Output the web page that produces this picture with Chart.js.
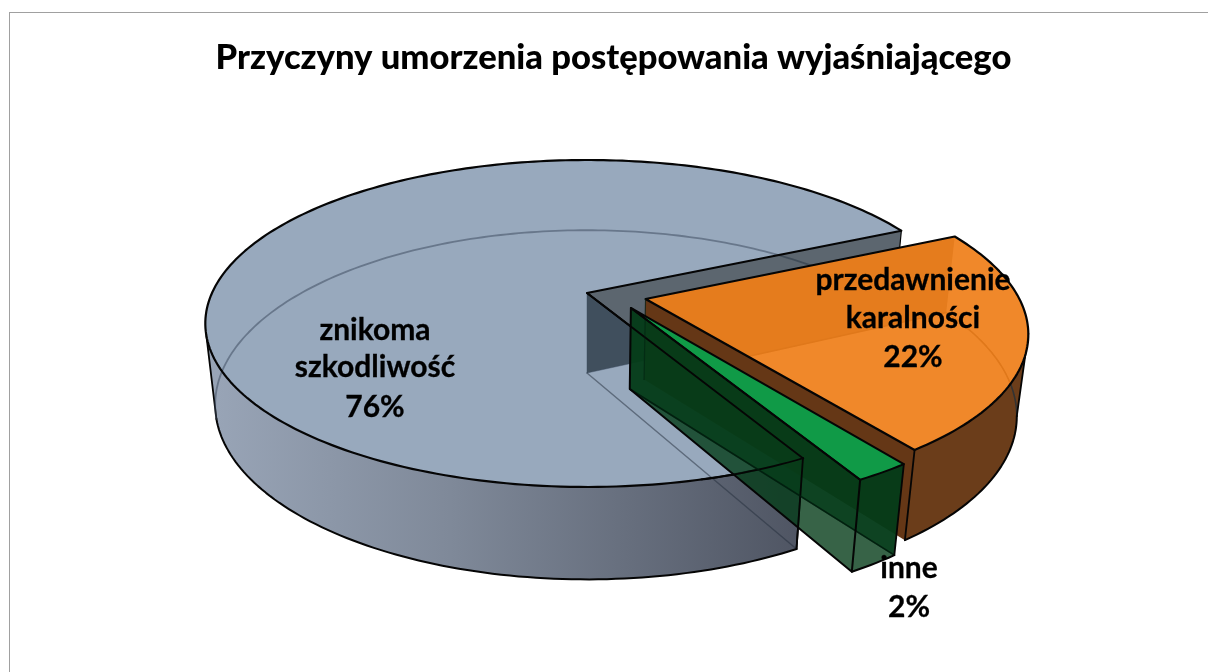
<!DOCTYPE html>
<html><head><meta charset="utf-8">
<script src="https://cdn.jsdelivr.net/npm/chart.js@4"></script>
<style>
html,body{margin:0;padding:0;background:#fff;overflow:hidden}
#frame{position:absolute;left:9px;top:12px;width:1199px;height:660px;border-left:1px solid #a0a0a0;border-top:1px solid #a0a0a0;box-sizing:border-box}
#wrap{position:absolute;left:0;top:0;width:1208px;height:672px}
</style></head><body>
<div id="frame"></div>
<div id="wrap"><canvas id="c" width="1208" height="672"></canvas></div>
<script>
const chartTitle = 'Przyczyny umorzenia postępowania wyjaśniającego';
const categories = ['znikoma szkodliwość', 'przedawnienie karalności', 'inne'];
const values = [76, 22, 2];
const percentLabels = ['76%', '22%', '2%'];
const sliceColors = ['#98A9BD', '#F0842A', '#109A47'];

// perspective of the pie plane
const CX = 587, CY = 293, RX = 375, RY = 157.8, PERSP = 0.1865, VX = 587, VY = 3500, DEPTH = 0.02495;
const SHIFT = [[0, 0], [0.155, 0.038], [0.115, 0.093]];
const RADIUS = [1, 0.99, 1];
const LABEL_LINES = [
  {x: 375, ys: [330, 367, 407], lines: ['znikoma', 'szkodliwość', percentLabels[0]]},
  {x: 913, ys: [280, 318, 357], lines: ['przedawnienie', 'karalności', percentLabels[1]]},
  {x: 909, ys: [568, 607], lines: ['inne', percentLabels[2]]}
];

function top3(i, a, r) {
  const rad = (r === undefined ? 1 : r) * RADIUS[i];
  const X = SHIFT[i][0] + rad * Math.cos(a), Y = SHIFT[i][1] + rad * Math.sin(a);
  const s = 1 / (1 - PERSP * Y);
  return {x: CX + RX * X * s, y: CY + RY * Y * s, s};
}
function bot3(i, a, r) {
  const p = top3(i, a, r), t = DEPTH * p.s;
  return {x: p.x + t * (VX - p.x), y: p.y + t * (VY - p.y)};
}
function arcPts(fn, i, a0, a1) {
  const n = Math.max(2, Math.ceil(Math.abs(a1 - a0) / 0.02)), pts = [];
  for (let k = 0; k <= n; k++) pts.push(fn(i, a0 + (a1 - a0) * k / n));
  return pts;
}
function path(ctx, pts, close) {
  ctx.beginPath();
  pts.forEach((p, k) => k ? ctx.lineTo(p.x, p.y) : ctx.moveTo(p.x, p.y));
  if (close) ctx.closePath();
}
function fillP(ctx, pts, style) {
  ctx.save();
  ctx.fillStyle = style;
  path(ctx, pts, true);
  ctx.fill();
  ctx.restore();
}
function strokeP(ctx, pts, style, w, close) {
  ctx.save();
  ctx.strokeStyle = style; ctx.lineWidth = w; ctx.lineJoin = 'round'; ctx.lineCap = 'round';
  path(ctx, pts, close);
  ctx.stroke();
  ctx.restore();
}
const deg = d => d * Math.PI / 180;
function wall(i, a) {
  return [top3(i, 0, 0), top3(i, a), bot3(i, a), bot3(i, 0, 0)];
}

const pie3d = {
  id: 'pie3d',
  beforeDatasetsDraw(chart) {
    const ctx = chart.ctx, els = chart.getDatasetMeta(0).data;
    const BLACK = '#050505';
    ctx.save();

    // ---- large slice
    {
      const el = els[0], a0 = el.startAngle, a1 = el.endAngle, sil = deg(165);
      const grad = ctx.createLinearGradient(217, 0, 800, 0);
      grad.addColorStop(0, '#98A4B6'); grad.addColorStop(0.4, '#7F8999'); grad.addColorStop(1, '#4F5563');
      const front = arcPts(top3, 0, a0, sil), back = arcPts(bot3, 0, sil, a0);
      fillP(ctx, front.concat(back), grad);
      strokeP(ctx, back, BLACK, 2);
      strokeP(ctx, [top3(0, sil), bot3(0, sil)], BLACK, 1.8);
      strokeP(ctx, [top3(0, a0), bot3(0, a0)], BLACK, 1.8);
      const outline = [top3(0, 0, 0)].concat(arcPts(top3, 0, a0, a1));
      fillP(ctx, outline, el.options.backgroundColor);
      strokeP(ctx, arcPts(bot3, 0, sil, a1), 'rgba(55,70,90,.5)', 1.8);
      strokeP(ctx, [bot3(0, 0, 0), bot3(0, a0)], 'rgba(35,45,60,.5)', 1.5);
      fillP(ctx, wall(0, a1), 'rgba(32,45,58,.73)');
      strokeP(ctx, [top3(0, 0, 0), bot3(0, 0, 0)], 'rgba(60,75,95,.45)', 1);
      strokeP(ctx, [bot3(0, 0, 0), bot3(0, a1)], 'rgba(60,75,95,.4)', 1);
      strokeP(ctx, outline, BLACK, 2.2, true);
      strokeP(ctx, [top3(0, a1), bot3(0, a1)], BLACK, 1.2);
    }

    // ---- middle slice
    {
      const el = els[1], a0 = el.startAngle, a1 = el.endAngle, sil = a0 + deg(37.2);
      fillP(ctx, wall(1, a0), 'rgb(110,105,95)');
      const front = arcPts(top3, 1, sil, a1), back = arcPts(bot3, 1, a1, sil);
      fillP(ctx, front.concat(back), '#6B3D1A');
      strokeP(ctx, arcPts(bot3, 1, a0, sil), '#333', 1.6);
      strokeP(ctx, [bot3(1, 0, 0), bot3(1, a0)], '#333', 1.4);
      fillP(ctx, wall(1, a1), '#653716');
      strokeP(ctx, back, BLACK, 2);
      strokeP(ctx, [top3(1, sil), bot3(1, sil)], BLACK, 1.8);
      strokeP(ctx, [top3(1, a1), bot3(1, a1)], BLACK, 1.8);
      strokeP(ctx, [top3(1, 0, 0), bot3(1, 0, 0)], 'rgba(30,20,10,.5)', 1);
      const outline = [top3(1, 0, 0)].concat(arcPts(top3, 1, a0, a1));
      ctx.save(); ctx.globalAlpha = 0.92;
      fillP(ctx, outline, '#EF7E18');
      ctx.restore();
      strokeP(ctx, outline, BLACK, 2.2, true);
    }

    // ---- small slice
    {
      const el = els[2], a0 = el.startAngle, a1 = el.endAngle, glass = 'rgba(5,60,25,.8)';
      const blueStart = els[0].startAngle;
      fillP(ctx, wall(2, a0), glass);
      strokeP(ctx, [bot3(2, 0, 0), bot3(2, a0)], 'rgba(0,35,18,.75)', 1.6);
      const outline = [top3(2, 0, 0)].concat(arcPts(top3, 2, a0, a1));
      fillP(ctx, outline, el.options.backgroundColor);
      fillP(ctx, wall(2, a1), glass);
      fillP(ctx, arcPts(top3, 2, a0, a1).concat(arcPts(bot3, 2, a1, a0)), glass);
      // edges of the large slice and the middle slice seen through the glass
      strokeP(ctx, [top3(0, 0, 0), top3(0, blueStart)], BLACK, 1.8);
      strokeP(ctx, [top3(0, blueStart), bot3(0, blueStart)], BLACK, 1.8);
      strokeP(ctx, arcPts(top3, 0, blueStart - 0.001, blueStart + 0.25), BLACK, 1.8);
      strokeP(ctx, [top3(1, 0, 0), bot3(1, 0, 0)], 'rgba(0,30,15,.5)', 1.2);
      strokeP(ctx, [bot3(2, 0, 0), bot3(2, a0)], 'rgba(0,25,12,.8)', 1.6);
      strokeP(ctx, outline, BLACK, 2, true);
      strokeP(ctx, wall(2, a1), BLACK, 2, true);
      strokeP(ctx, arcPts(bot3, 2, a0, a1), BLACK, 2);
      strokeP(ctx, [top3(2, a0), bot3(2, a0)], BLACK, 1.8);
    }

    // ---- labels
    ctx.fillStyle = '#000';
    ctx.strokeStyle = '#000';
    ctx.lineWidth = 0.3;
    ctx.font = 'bold 30px Lato';
    ctx.textAlign = 'center';
    ctx.textBaseline = 'middle';
    LABEL_LINES.forEach(l => l.lines.forEach((t, k) => {
      ctx.fillText(t, l.x, l.ys[k]);
      ctx.strokeText(t, l.x, l.ys[k]);
    }));
    ctx.restore();
    return false;
  }
};

new Chart(document.getElementById('c'), {
  type: 'pie',
  data: {
    labels: categories,
    datasets: [{data: values, backgroundColor: sliceColors, borderWidth: 0}]
  },
  options: {
    responsive: false,
    animation: false,
    rotation: 151.2,
    layout: {padding: {left: 19}},
    plugins: {
      legend: {display: false},
      tooltip: {enabled: false},
      title: {
        display: true, text: chartTitle, color: '#000',
        font: {family: 'Lato', size: 34.6, weight: '900'},
        padding: {top: 37, bottom: 10}
      }
    }
  },
  plugins: [pie3d]
});
</script>
</body></html>
